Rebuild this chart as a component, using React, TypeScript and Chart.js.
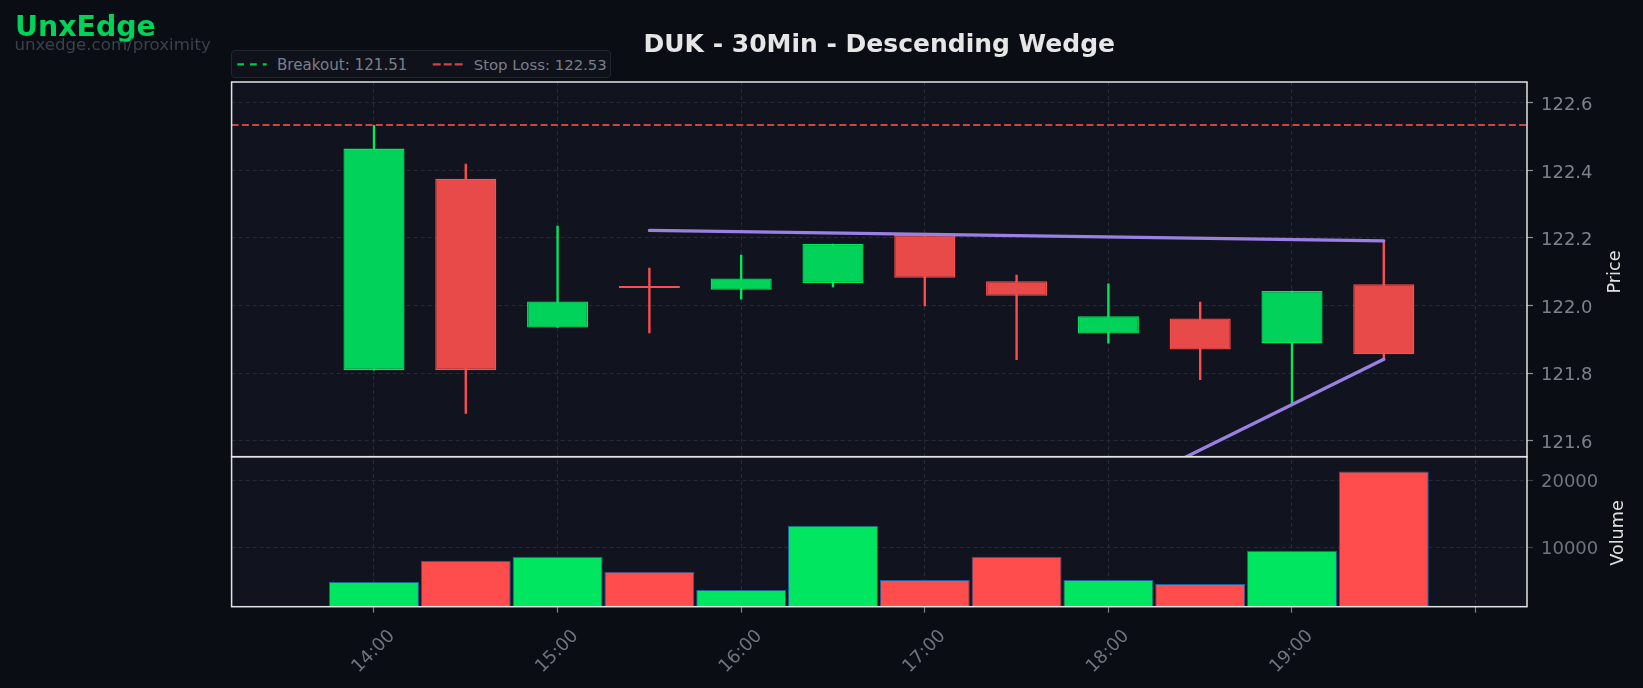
import React, { useEffect, useRef } from 'react';
import { Chart, registerables } from 'chart.js';

Chart.register(...registerables);

// ---- data ----
const TIMES = ['14:00', '14:30', '15:00', '15:30', '16:00', '16:30', '17:00', '17:30', '18:00', '18:30', '19:00', '19:30'];
const SLOT = [0, 1, 2, 3, 4, 5, 6, 7, 8, 9, 10, 11]; // half-hour slots from 14:00
const OPEN = [121.809, 122.375, 121.935, 122.058, 122.047, 122.067, 122.209, 122.072, 121.917, 121.962, 121.888, 122.063];
const HIGH = [122.533, 122.418, 122.235, 122.111, 122.149, 122.182, 122.209, 122.090, 122.064, 122.010, 122.043, 122.191];
const LOW = [121.809, 121.681, 121.935, 121.919, 122.019, 122.055, 121.999, 121.840, 121.889, 121.781, 121.711, 121.841];
const CLOSE = [122.464, 121.809, 122.012, 122.052, 122.080, 122.182, 122.082, 122.029, 121.968, 121.870, 122.043, 121.856];
const VOLUME = [4810, 7960, 8560, 6310, 3610, 13210, 5110, 8560, 5110, 4510, 9460, 21300];

const UPPER_TREND_X = [3, 11];
const UPPER_TREND_Y = [122.222, 122.191];
const LOWER_TREND_X = [3, 11];
const LOWER_TREND_Y = [120.769, 121.841];

const BREAKOUT = 121.51;
const STOP_LOSS = 122.534;

const X_TICK_POS = [0, 2, 4, 6, 8, 10, 12];
const X_TICK_LABELS = ['14:00', '15:00', '16:00', '17:00', '18:00', '19:00', ''];
const PRICE_TICKS = [121.6, 121.8, 122.0, 122.2, 122.4, 122.6];
const VOLUME_TICKS = [10000, 20000];

const X_MIN = -1.551;
const X_MAX = 12.56;
const PRICE_MIN = 121.553;
const PRICE_MAX = 122.661;
const VOL_MIN = 1110;
const VOL_MAX = 23500;

// ---- styles ----
const PAGE_BG = '#0a0d14';
const PLOT_BG = '#11141f';
const GRID = '#252a37';
const SPINE = '#e4e4e4';
const FONT = "'DejaVu Sans', sans-serif";
const UP_FILL = '#00d25a';
const UP_EDGE = '#00e85f';
const DN_FILL = '#e84a4a';
const DN_EDGE = '#ff4d4d';
const VOL_UP = '#00e660';
const VOL_DN = '#ff4d4d';
const VOL_EDGE = '#1f5f9c';
const TREND = '#9b80e4';
const STOP_COLOR = '#c94646';
const BREAK_COLOR = '#00c853';

const panelPlugin = {
  id: 'panels',
  beforeDraw(chart: any) {
    const { ctx, chartArea } = chart;
    ctx.save();
    ctx.fillStyle = PLOT_BG;
    ctx.fillRect(chartArea.left, chartArea.top, chartArea.right - chartArea.left, chartArea.bottom - chartArea.top);
    ctx.restore();
  },
  afterDraw(chart: any) {
    const { ctx, chartArea } = chart;
    ctx.save();
    ctx.strokeStyle = SPINE;
    ctx.lineWidth = 1.5;
    for (const id of ['yPrice', 'yVol']) {
      const s = chart.scales[id];
      ctx.strokeRect(chartArea.left, s.top, chartArea.right - chartArea.left, s.bottom - s.top);
    }
    ctx.restore();
  },
};

export default function App() {
  const ref = useRef<HTMLCanvasElement>(null);

  useEffect(() => {
    const up = OPEN.map((o, i) => CLOSE[i] >= o);
    const bodyData = SLOT.map((x, i) => ({ x, y: [OPEN[i], CLOSE[i]] }));
    const wickData = SLOT.map((x, i) => ({ x, y: [LOW[i], HIGH[i]] }));
    const volData = SLOT.map((x, i) => ({ x, y: VOLUME[i] }));

    const yTickBase = {
      color: '#7d818b',
      font: { family: FONT, size: 18 },
      padding: 8,
      labelOffset: 2.6,
    };

    const chart = new Chart(ref.current as HTMLCanvasElement, {
      type: 'bar',
      data: {
        datasets: [
          {
            type: 'line',
            label: 'Stop Loss',
            data: [{ x: X_MIN, y: STOP_LOSS }, { x: X_MAX, y: STOP_LOSS }],
            borderColor: STOP_COLOR,
            borderWidth: 2,
            borderDash: [7, 3.3],
            pointRadius: 0,
            fill: false,
            yAxisID: 'yPrice',
            xAxisID: 'x',
            order: 0,
          },
          {
            type: 'line',
            label: 'Upper trend',
            data: UPPER_TREND_X.map((x, i) => ({ x, y: UPPER_TREND_Y[i] })),
            borderColor: TREND,
            borderWidth: 3.3,
            borderCapStyle: 'round',
            pointRadius: 0,
            fill: false,
            yAxisID: 'yPrice',
            xAxisID: 'x',
            order: 0,
          },
          {
            type: 'line',
            label: 'Lower trend',
            data: LOWER_TREND_X.map((x, i) => ({ x, y: LOWER_TREND_Y[i] })),
            borderColor: TREND,
            borderWidth: 3.3,
            borderCapStyle: 'round',
            pointRadius: 0,
            fill: false,
            yAxisID: 'yPrice',
            xAxisID: 'x',
            order: 0,
          },
          {
            type: 'bar',
            label: 'Body',
            data: bodyData as any,
            backgroundColor: up.map((u) => (u ? UP_FILL : DN_FILL)),
            borderColor: up.map((u) => (u ? UP_EDGE : DN_EDGE)),
            borderWidth: 1.3,
            borderSkipped: false,
            grouped: false,
            categoryPercentage: 1,
            barPercentage: 0.665,
            yAxisID: 'yPrice',
            xAxisID: 'x',
            order: 1,
          },
          {
            type: 'bar',
            label: 'Wick',
            data: wickData as any,
            backgroundColor: up.map((u) => (u ? UP_EDGE : DN_EDGE)),
            borderWidth: 0,
            grouped: false,
            barThickness: 1.7,
            yAxisID: 'yPrice',
            xAxisID: 'x',
            order: 2,
          },
          {
            type: 'bar',
            label: 'Volume',
            data: volData as any,
            backgroundColor: up.map((u) => (u ? VOL_UP : VOL_DN)),
            borderColor: VOL_EDGE,
            borderWidth: 1,
            borderSkipped: false,
            grouped: false,
            categoryPercentage: 1,
            barPercentage: 0.98,
            yAxisID: 'yVol',
            xAxisID: 'x',
            order: 3,
          },
        ] as any,
      },
      options: {
        responsive: false,
        devicePixelRatio: 1,
        animation: false,
        events: [],
        layout: { padding: { left: 231.6, top: 82, right: 0, bottom: 0 } },
        plugins: { legend: { display: false }, tooltip: { enabled: false }, title: { display: false } },
        scales: {
          x: {
            type: 'linear',
            min: X_MIN,
            max: X_MAX,
            offset: false,
            grid: { color: GRID, lineWidth: 1, offset: false, drawTicks: true, tickLength: 6, tickColor: '#7c8089', tickWidth: 1.2 },
            border: { display: false, dash: [4, 3] },
            afterBuildTicks: (s: any) => {
              s.ticks = X_TICK_POS.map((v) => ({ value: v }));
            },
            ticks: {
              autoSkip: false,
              minRotation: 45,
              maxRotation: 45,
              padding: 13,
              labelOffset: 18,
              color: '#6f737d',
              font: { family: FONT, size: 18 },
              callback: (_v: any, i: number) => X_TICK_LABELS[i],
            },
            afterFit: (s: any) => {
              s.height = 81.3;
            },
          },
          yPrice: {
            type: 'linear',
            position: 'right',
            stack: 'panels',
            stackWeight: 374.7,
            stacked: false,
            min: PRICE_MIN,
            max: PRICE_MAX,
            grid: { color: GRID, lineWidth: 1, drawTicks: true, tickLength: 6, tickColor: '#8c9099', tickWidth: 1.2 },
            border: { display: false, dash: [4, 3] },
            afterBuildTicks: (s: any) => {
              s.ticks = PRICE_TICKS.map((v) => ({ value: v }));
            },
            ticks: { ...yTickBase, callback: (v: any) => Number(v).toFixed(1) },
            afterFit: (s: any) => {
              s.width = 116;
            },
          },
          yVol: {
            type: 'linear',
            position: 'right',
            stack: 'panels',
            stackWeight: 150,
            stacked: false,
            min: VOL_MIN,
            max: VOL_MAX,
            grid: { color: GRID, lineWidth: 1, drawTicks: true, tickLength: 6, tickColor: '#3c414c', tickWidth: 1.2 },
            border: { display: false, dash: [4, 3] },
            afterBuildTicks: (s: any) => {
              s.ticks = VOLUME_TICKS.map((v) => ({ value: v }));
            },
            ticks: { ...yTickBase, color: '#70747e', callback: (v: any) => String(v) },
            afterFit: (s: any) => {
              s.width = 116;
            },
          },
        },
      } as any,
      plugins: [panelPlugin],
    });
    return () => chart.destroy();
  }, []);

  const text = (extra: any) => ({ position: 'absolute', whiteSpace: 'nowrap', lineHeight: 1, fontFamily: FONT, ...extra });

  return (
    <div style={{ position: 'fixed', left: 0, top: 0, width: 1643, height: 688, background: PAGE_BG, overflow: 'hidden' }}>
      <canvas ref={ref} width={1643} height={688} style={{ position: 'absolute', left: 0, top: 0 }} />
      <div style={text({ left: 15, top: 12.7, fontSize: 28.4, fontWeight: 'bold', color: '#00d25a' })}>UnxEdge</div>
      <div style={text({ left: 14.5, top: 37, fontSize: 16.6, color: '#3b404b' })}>unxedge.com/proximity</div>
      <div style={text({ left: 231.6, width: 1295.4, top: 30.9, fontSize: 25, fontWeight: 'bold', color: '#e6e6e6', textAlign: 'center' })}>
        DUK - 30Min - Descending Wedge
      </div>
      <div
        style={{
          position: 'absolute',
          left: 230.7,
          top: 50,
          width: 380,
          height: 27.7,
          boxSizing: 'border-box',
          border: '1px solid #22262f',
          borderRadius: 4,
          background: '#0f121a',
        }}
      />
      <svg style={{ position: 'absolute', left: 0, top: 0 }} width={700} height={90}>
        <line x1={237.3} y1={64.3} x2={266.7} y2={64.3} stroke={BREAK_COLOR} strokeWidth={2.2} strokeDasharray="6.7 6" />
        <line x1={432.7} y1={64.3} x2={463} y2={64.3} stroke={STOP_COLOR} strokeWidth={2.2} strokeDasharray="8 3" />
      </svg>
      <div style={text({ left: 277, top: 57.6, fontSize: 15.1, color: '#7b7f8a' })}>{`Breakout: ${BREAKOUT.toFixed(2)}`}</div>
      <div style={text({ left: 473.7, top: 57.6, fontSize: 14.9, color: '#7b7f8a' })}>{`Stop Loss: ${STOP_LOSS.toFixed(2)}`}</div>
      <div style={text({ left: 1614.6, top: 271.5, fontSize: 17.6, color: '#e0e0e0', transform: 'translate(-50%, -50%) rotate(-90deg)' })}>Price</div>
      <div style={text({ left: 1618, top: 533, fontSize: 17.6, color: '#e0e0e0', transform: 'translate(-50%, -50%) rotate(-90deg)' })}>Volume</div>
    </div>
  );
}
